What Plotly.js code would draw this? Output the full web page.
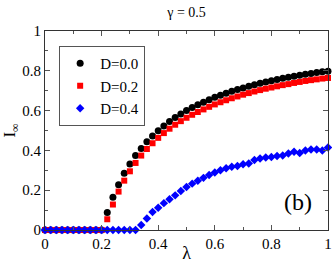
<!DOCTYPE html>
<html><head><meta charset="utf-8">
<script src="https://cdn.plot.ly/plotly-3.0.1.min.js"></script>
<style>html,body{margin:0;padding:0;background:#fff;}#chart{width:332px;height:263px;}</style>
</head><body><div id="chart"></div>
<script>
const lambda = [0,0.02,0.04,0.06,0.08,0.1,0.12,0.14,0.16,0.18,0.2,0.22,0.24,0.26,0.28,0.3,0.32,0.34,0.36,0.38,0.4,0.42,0.44,0.46,0.48,0.5,0.52,0.54,0.56,0.58,0.6,0.62,0.64,0.66,0.68,0.7,0.72,0.74,0.76,0.78,0.8,0.82,0.84,0.86,0.88,0.9,0.92,0.94,0.96,0.98,1.0];
const iD00 = [0,0,0,0,0,0,0,0,0,0,0,0.088,0.165,0.228,0.285,0.332,0.374,0.41,0.443,0.472,0.499,0.523,0.545,0.565,0.583,0.60,0.615,0.629,0.642,0.655,0.667,0.677,0.687,0.697,0.706,0.714,0.722,0.73,0.737,0.744,0.75,0.756,0.762,0.767,0.773,0.778,0.783,0.787,0.791,0.795,0.798];
const iD02 = [0,0,0,0,0,0,0,0,0,0,0,0.054,0.128,0.193,0.248,0.295,0.337,0.374,0.407,0.436,0.463,0.487,0.509,0.529,0.547,0.564,0.579,0.593,0.606,0.619,0.631,0.642,0.652,0.662,0.671,0.68,0.688,0.696,0.703,0.71,0.716,0.722,0.728,0.733,0.739,0.744,0.749,0.753,0.757,0.761,0.764];
const iD04 = [0,0,0,0,0,0,0,0,0,0,0,0,0,0,0,0,0,0.025,0.058,0.09,0.112,0.135,0.155,0.174,0.196,0.216,0.233,0.248,0.262,0.276,0.289,0.30,0.31,0.318,0.322,0.33,0.334,0.352,0.359,0.364,0.367,0.372,0.374,0.384,0.393,0.387,0.40,0.405,0.405,0.40,0.415];
const seriesNames = ['D=0.0','D=0.2','D=0.4'];
const tickVals = [0,0.2,0.4,0.6,0.8,1];
const tickText = ['0','0.2','0.4','0.6','0.8','1'];

const F = '"Liberation Serif", "Times New Roman", serif';
const traces = [
  {x: lambda, y: iD00, name: seriesNames[0], mode: 'markers', type: 'scatter', cliponaxis: false,
   marker: {symbol: 'circle', size: 7, color: '#000000'}},
  {x: lambda, y: iD02, name: seriesNames[1], mode: 'markers', type: 'scatter', cliponaxis: false,
   marker: {symbol: 'square', size: 6, color: '#ff0000'}},
  {x: lambda, y: iD04, name: seriesNames[2], mode: 'markers', type: 'scatter', cliponaxis: false,
   marker: {symbol: 'diamond', size: 6.5, color: '#0000ff'}}
];
const axBase = {
  range: [0, 1], tickmode: 'array', tickvals: tickVals, ticktext: tickText,
  showgrid: false, zeroline: false,
  showline: true, linecolor: '#333', linewidth: 1, mirror: 'allticks',
  ticks: 'inside', ticklen: 5, tickcolor: '#555', tickwidth: 1,
  minor: {dtick: 0.1, ticks: 'inside', ticklen: 3, tickcolor: '#555'},
  tickfont: {family: F, size: 15, color: '#000'}, fixedrange: true
};
const layout = {
  width: 332, height: 263,
  margin: {l: 45, r: 4, t: 31, b: 33},
  paper_bgcolor: '#fff', plot_bgcolor: '#fff',
  showlegend: true,
  title: {text: 'γ = 0.5', font: {family: F, size: 14, color: '#000'}, xref: 'paper', x: 0.5, xanchor: 'center', yref: 'container', y: 0.955, yanchor: 'middle'},
  xaxis: Object.assign({}, axBase, {
    title: {text: 'λ', font: {family: F, size: 18, color: '#000'}, standoff: 0}}),
  yaxis: Object.assign({}, axBase, {
    title: {text: 'I<sub>∞</sub>', font: {family: F, size: 17, color: '#000'}, standoff: 4}}),
  legend: {x: 0.05, y: 0.925, xanchor: 'left', yanchor: 'top', bgcolor: '#fff',
    bordercolor: '#555', borderwidth: 1, font: {family: F, size: 15, color: '#000'},
    itemwidth: 30, tracegroupgap: 0},
  annotations: [{x: 0.895, y: 0.14, xref: 'x', yref: 'y', text: '(b)', showarrow: false,
    font: {family: F, size: 24, color: '#000'}}]
};
Plotly.newPlot('chart', traces, layout, {displayModeBar: false, staticPlot: true});
</script></body></html>
